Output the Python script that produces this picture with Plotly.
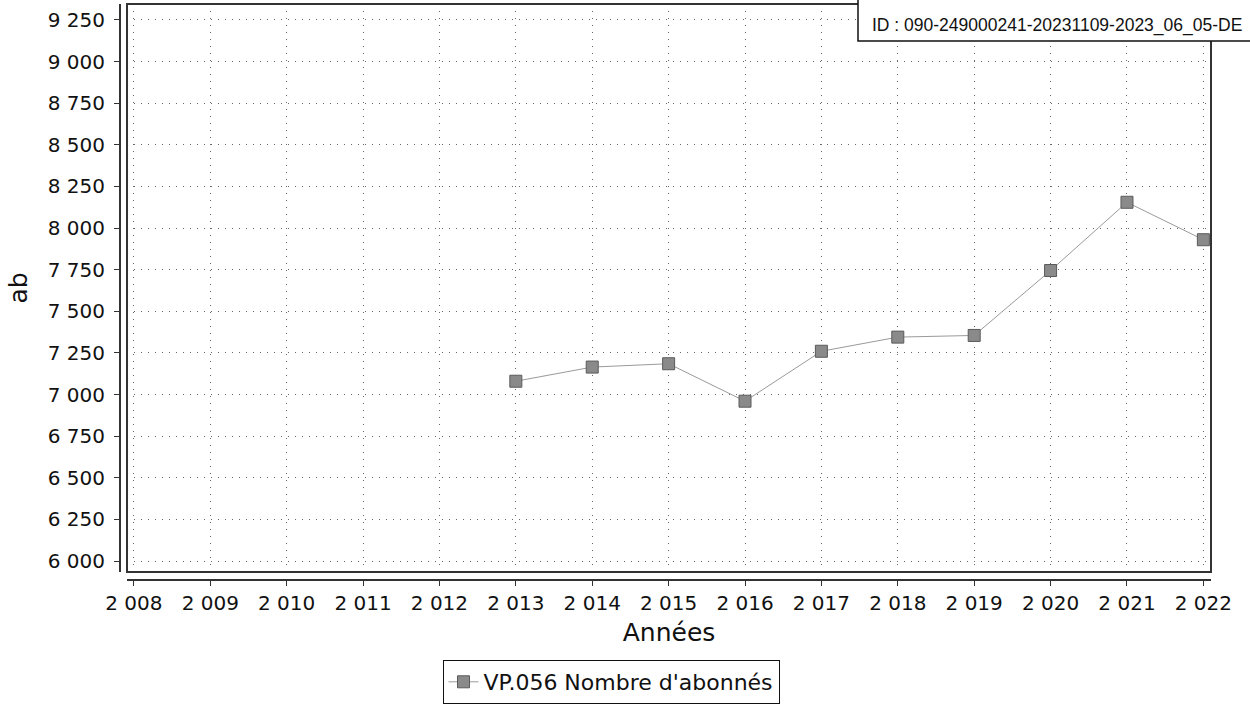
import plotly.graph_objects as go

years = [2013, 2014, 2015, 2016, 2017, 2018, 2019, 2020, 2021, 2022]
abonnes = [7080, 7165, 7185, 6960, 7260, 7345, 7355, 7745, 8155, 7930]
series_name = "VP.056 Nombre d'abonnés"

x_tick_vals = list(range(2008, 2023))
x_tick_text = ["2 008", "2 009", "2 010", "2 011", "2 012", "2 013", "2 014", "2 015",
               "2 016", "2 017", "2 018", "2 019", "2 020", "2 021", "2 022"]
y_tick_vals = [6000, 6250, 6500, 6750, 7000, 7250, 7500, 7750, 8000, 8250, 8500, 8750, 9000, 9250]
y_tick_text = ["6 000", "6 250", "6 500", "6 750", "7 000", "7 250", "7 500", "7 750",
               "8 000", "8 250", "8 500", "8 750", "9 000", "9 250"]
id_text = "ID : 090-249000241-20231109-2023_06_05-DE"

W, H = 1250, 704
ML, MR, MT, MB = 120, 39, 4, 124
PW = W - ML - MR
PH = H - MT - MB

def px_x(p):
    return (p - ML) / PW

def px_y(p):
    return (H - MB - p) / PH

FONT = "DejaVu Sans"
grid_dash = "1px,6px"

fig = go.Figure()
fig.add_trace(go.Scatter(
    x=years, y=abonnes, mode="lines+markers", name=series_name,
    line=dict(color="#9a9a9a", width=1),
    marker=dict(symbol="square", size=12, color="#8a8a8a",
                line=dict(color="#5a5a5a", width=1)),
))

fig.update_layout(
    width=W, height=H,
    margin=dict(l=ML, r=MR, t=MT, b=MB, autoexpand=False),
    paper_bgcolor="white", plot_bgcolor="white",
    font=dict(family=FONT, color="#111111"),
    showlegend=True,
    legend=dict(
        x=px_x(611), y=px_y(660), xanchor="center", yanchor="top",
        bgcolor="white", bordercolor="#111111", borderwidth=1,
        font=dict(family=FONT, size=22, color="#111111"),
        itemwidth=30,
    ),
    xaxis=dict(
        domain=[px_x(127), 1.0],
        range=[2007.91, 2022.10],
        anchor="free", position=0,
        tickmode="array", tickvals=x_tick_vals, ticktext=x_tick_text,
        ticks="outside", ticklen=5, tickcolor="#333333", tickwidth=1,
        tickfont=dict(family=FONT, size=20, color="#111111"),
        showline=True, linecolor="#333333", linewidth=2,
        showgrid=True, gridcolor="#666666", gridwidth=1, griddash=grid_dash,
        zeroline=False,
        title=dict(text="Années", font=dict(family=FONT, size=25, color="#111111"), standoff=8),
    ),
    yaxis=dict(
        domain=[px_y(572), 1.0],
        range=[5934, 9346],
        anchor="free", position=0,
        tickmode="array", tickvals=y_tick_vals, ticktext=y_tick_text,
        ticks="outside", ticklen=5, tickcolor="#333333", tickwidth=1,
        tickfont=dict(family=FONT, size=20, color="#111111"),
        ticklabelstandoff=5,
        showline=True, linecolor="#333333", linewidth=2,
        showgrid=True, gridcolor="#666666", gridwidth=1, griddash=grid_dash,
        zeroline=False,
        title=dict(text="ab", font=dict(family=FONT, size=25, color="#111111"), standoff=12),
    ),
    shapes=[
        dict(type="rect", xref="x domain", yref="y domain", x0=0, x1=1, y0=0, y1=1,
             line=dict(color="#333333", width=2), fillcolor="rgba(0,0,0,0)", layer="above"),
        dict(type="rect", xref="paper", yref="paper",
             x0=px_x(858), x1=px_x(1262), y0=px_y(41), y1=px_y(-6),
             line=dict(color="#111111", width=1.5), fillcolor="white", layer="above"),
    ],
    annotations=[
        dict(text=id_text, xref="paper", yref="paper", x=px_x(870), y=px_y(26),
             xanchor="left", yanchor="middle", showarrow=False,
             font=dict(family="Liberation Sans", size=17.5, color="#111111")),
    ],
)

fig.write_html(
    "out.html",
    config={"displayModeBar": False},
    post_script="document.body.style.margin='0';document.body.style.overflow='hidden';",
)
